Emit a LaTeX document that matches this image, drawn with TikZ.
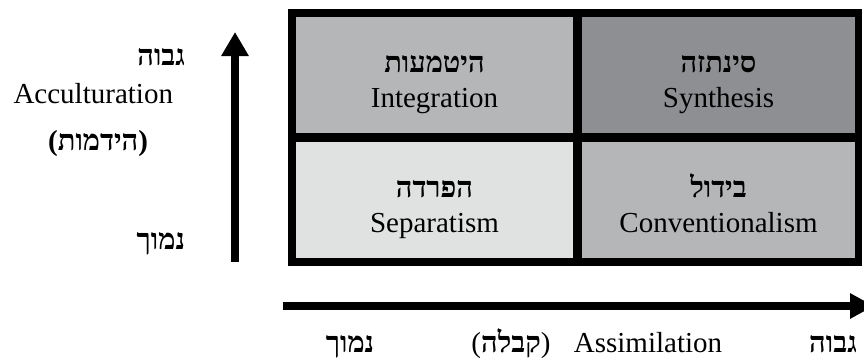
\documentclass[tikz,border=0pt]{standalone}
\usepackage{fontspec}
\setmainfont{Liberation Serif}
\newfontfamily\heb[Script=Hebrew]{Liberation Serif Bold}
\TeXXeTstate=1
\usetikzlibrary{arrows.meta}
\definecolor{cellmid}{HTML}{B4B6B8}
\definecolor{celldark}{HTML}{8E8F92}
\definecolor{celllight}{HTML}{E0E1E1}
\begin{document}
\begin{tikzpicture}[x=1pt,y=-1pt,
  lbl/.style={font=\fontsize{29}{34}\selectfont, inner sep=0pt, outer sep=0pt},
  cell/.style={inner sep=0pt, outer sep=0pt, minimum height=116pt},
  bigarrow/.style={line width=8pt, draw=black}]
\useasboundingbox (0,0) rectangle (864,360);
% frame
\node[fill=black, inner sep=0pt, outer sep=0pt, minimum width=574pt, minimum height=257pt] (frame) at (575,137.5) {};
% cells
\node[cell, fill=cellmid, minimum width=277pt] (integ) at (434.5,75) {};
\node[cell, fill=celldark, minimum width=273pt] (synth) at (718.5,75) {};
\node[cell, fill=celllight, minimum width=277pt] (separ) at (434.5,200) {};
\node[cell, fill=cellmid, minimum width=273pt] (conv) at (718.5,200) {};
% cell texts
\node[lbl, anchor=base] (integH) at (434.5,72) {\heb\beginR היטמעות\endR};
\node[lbl, anchor=base] (integE) at (434.5,107) {Integration};
\node[lbl, anchor=base] (synthH) at (718.5,72) {\heb\beginR סינתזה\endR};
\node[lbl, anchor=base] (synthE) at (718.5,107) {Synthesis};
\node[lbl, anchor=base] (separH) at (434.5,197) {\heb\beginR הפרדה\endR};
\node[lbl, anchor=base] (separE) at (434.5,232) {Separatism};
\node[lbl, anchor=base] (convH) at (718.5,197) {\heb\beginR בידול\endR};
\node[lbl, anchor=base] (convE) at (718.5,232) {Conventionalism};
% left labels
\node[lbl, anchor=base east] (lhigh) at (185,65) {\heb\beginR גבוה\endR};
\node[lbl, anchor=base east] (lacc) at (173,103) {Acculturation};
\node[lbl, anchor=base east] (lhid) at (148,150) {\textbf{(}{\heb\beginR הידמות\endR}\textbf{)}};
\node[lbl, anchor=base east] (llow) at (185,249) {\heb\beginR נמוך\endR};
% bottom labels
\node[lbl, anchor=base] (blow) at (350,352) {\heb\beginR נמוך\endR};
\node[lbl, anchor=base] (bkab) at (511,352) {({\heb\beginR קבלה\endR})};
\node[lbl, anchor=base] (bass) at (648,352) {Assimilation};
\node[lbl, anchor=base] (bhigh) at (833,352) {\heb\beginR גבוה\endR};
% arrows
\coordinate (vbot) at (235,262);
\coordinate (vtop) at (235,32);
\draw[bigarrow, -{Triangle[width=26pt,length=24pt]}] (vbot) -- (vtop);
\coordinate (hleft) at (283,306);
\coordinate (hright) at (874,306);
\draw[bigarrow, -{Triangle[width=24pt,length=24pt]}] (hleft) -- (hright);
\end{tikzpicture}
\end{document}
